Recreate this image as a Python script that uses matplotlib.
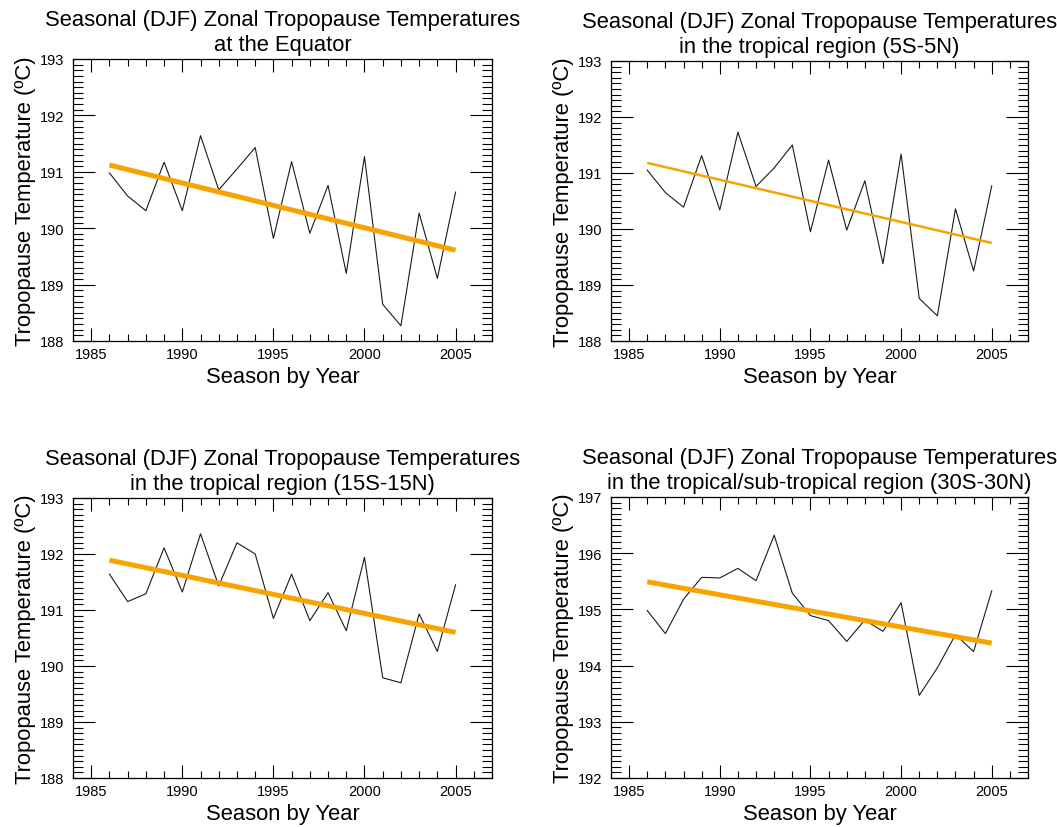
import matplotlib
matplotlib.use("Agg")
import matplotlib.pyplot as plt
from matplotlib.ticker import MultipleLocator
import numpy as np

plt.rcParams['font.family'] = ['Liberation Sans', 'DejaVu Sans']

years = list(range(1986, 2006))

equator = [190.98, 190.57, 190.31, 191.17, 190.31, 191.64, 190.68, 191.05, 191.43, 189.82,
           191.18, 189.91, 190.76, 189.20, 191.27, 188.65, 188.27, 190.27, 189.11, 190.64]
trend_equator = [191.12, 189.61]

tropics_5 = [191.05, 190.65, 190.39, 191.31, 190.34, 191.73, 190.76, 191.09, 191.50, 189.95,
             191.23, 189.98, 190.86, 189.38, 191.34, 188.76, 188.45, 190.36, 189.25, 190.77]
trend_tropics_5 = [191.18, 189.75]

tropics_15 = [191.64, 191.15, 191.29, 192.11, 191.32, 192.36, 191.43, 192.20, 192.00, 190.85,
              191.64, 190.81, 191.31, 190.63, 191.94, 189.79, 189.70, 190.93, 190.26, 191.45]
trend_tropics_15 = [191.89, 190.60]

subtrop_30 = [194.98, 194.57, 195.18, 195.57, 195.56, 195.73, 195.51, 196.32, 195.29, 194.89,
              194.80, 194.43, 194.81, 194.61, 195.12, 193.47, 193.96, 194.55, 194.25, 195.33]
trend_subtrop_30 = [195.49, 194.40]

titles = [
    "Seasonal (DJF) Zonal Tropopause Temperatures\nat the Equator",
    "Seasonal (DJF) Zonal Tropopause Temperatures\nin the tropical region (5S-5N)",
    "Seasonal (DJF) Zonal Tropopause Temperatures\nin the tropical region (15S-15N)",
    "Seasonal (DJF) Zonal Tropopause Temperatures\nin the tropical/sub-tropical region (30S-30N)",
]
ylims = [(188, 193), (188, 193), (188, 193), (192, 197)]
xlim = (1984, 2007)
xticks = [1985, 1990, 1995, 2000, 2005]
series = [equator, tropics_5, tropics_15, subtrop_30]
trends = [trend_equator, trend_tropics_5, trend_tropics_15, trend_subtrop_30]
trend_widths = [3.6, 1.8, 3.6, 3.6]

W, H = 1057, 828
fig = plt.figure(figsize=(W / 100, H / 100), dpi=100)

# pixel boxes: left, right, top, bottom
boxes = [(73, 492, 60, 342), (611, 1028, 62, 342), (73, 492, 499, 779), (611, 1028, 498, 779)]

orange = '#F7A300'
for i in range(4):
    l, r, t, b = boxes[i]
    ax = fig.add_axes([l / W, 1 - b / H, (r - l) / W, (b - t) / H])
    ax.plot(years, series[i], color='#1a1a1a', lw=0.8)
    ax.plot([years[0], years[-1]], trends[i], color=orange, lw=trend_widths[i],
            solid_capstyle='butt')
    ax.set_xlim(*xlim)
    ax.set_ylim(*ylims[i])
    ax.set_xticks(xticks)
    ax.set_yticks(np.arange(ylims[i][0], ylims[i][1] + 1))
    ax.xaxis.set_minor_locator(MultipleLocator(1))
    ax.yaxis.set_minor_locator(MultipleLocator(0.1))
    ax.tick_params(axis='x', which='major', direction='in', length=9.5, width=0.8,
                   top=True, bottom=True, labelsize=10.5, pad=4)
    ax.tick_params(axis='x', which='minor', direction='in', length=5, width=0.8,
                   top=True, bottom=True)
    ax.tick_params(axis='y', which='major', direction='in', length=15.5, width=0.8,
                   left=True, right=True, labelsize=10.5, pad=6)
    ax.tick_params(axis='y', which='minor', direction='in', length=7, width=0.8,
                   left=True, right=True)
    for s in ax.spines.values():
        s.set_linewidth(0.9)
    ax.set_title(titles[i], fontsize=15.8, pad=6.5, linespacing=1.25)
    ax.set_xlabel("Season by Year", fontsize=15.8, labelpad=4)
    ax.set_ylabel("Tropopause Temperature (\u00baC)", fontsize=15.8, labelpad=3)

fig.savefig("out.png", dpi=100)
